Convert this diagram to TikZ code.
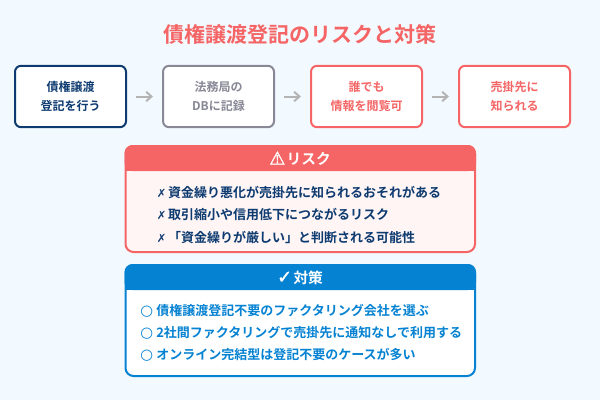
\documentclass[tikz,border=0pt]{standalone}
\usepackage{fontspec}
\setmainfont{Noto Sans CJK JP Bold}[BoldFont={Noto Sans CJK JP Bold}]
\newfontfamily\sym{DejaVu Sans}
\newfontfamily\symb{DejaVu Sans}[FakeBold=1.5]
\usetikzlibrary{arrows.meta}
\definecolor{bgc}{HTML}{F3FAFF}
\definecolor{navy}{HTML}{0D3B70}
\definecolor{coral}{HTML}{F56565}
\definecolor{blueb}{HTML}{0582D2}
\definecolor{greyb}{HTML}{888896}
\definecolor{arrowc}{HTML}{B4B4B4}
\definecolor{pinkbg}{HTML}{FFF5F5}
\newcommand{\crossmark}{\makebox[8.6pt][l]{\sym\fontsize{8.5}{12}\selectfont ✗}}
\newcommand{\ringmark}{\makebox[12pt][l]{\sym\fontsize{11}{12}\selectfont ○}}
\tikzset{
 x=0.75pt,y=-0.75pt,
 flow/.style={draw=#1,text=#1,line width=1.5pt,fill=white,rounded corners=4.5pt,minimum width=83.25pt,minimum height=46pt,inner sep=0pt,align=center,font=\fontsize{9}{14.6}\selectfont},
 flowarrow/.style={draw=arrowc,line width=1.5pt,shorten >=6.75pt,shorten <=6.75pt,-{Straight Barb[length=4pt,width=7pt,line width=1.5pt]}},
 head/.style={text=white,inner sep=0pt,anchor=center,font=\fontsize{11}{13}\selectfont},
 item/.style={anchor=west,inner sep=0pt,font=\fontsize{9.75}{12}\selectfont,text height=8.5pt,text depth=1.5pt},
}
\begin{document}
\begin{tikzpicture}
\useasboundingbox (0,0) rectangle (600,400);
\fill[bgc] (0,0) rectangle (600,400);
\node[text=coral,inner sep=0pt,font=\fontsize{15.75}{18}\selectfont] (title) at (300,35) {債権譲渡登記のリスクと対策};
\node[flow=navy] (b1) at (70.5,96.5) {債権譲渡\\登記を行う};
\node[flow=greyb] (b2) at (218.5,96.5) {法務局の\\DBに記録};
\node[flow=coral] (b3) at (366.5,96.5) {誰でも\\情報を閲覧可};
\node[flow=coral] (b4) at (514.5,96.5) {売掛先に\\知られる};
\draw[flowarrow] (b1) -- (b2);
\draw[flowarrow] (b2) -- (b3);
\draw[flowarrow] (b3) -- (b4);
% risk panel
\draw[coral,fill=pinkbg,line width=1.5pt,rounded corners=6pt] (125.5,146) rectangle (475,252);
\fill[coral,rounded corners=6pt] (124.5,171) -- (124.5,145) -- (476,145) -- (476,171) -- cycle;
\fill[coral] (124.5,165) rectangle (476,171);
\node[head] (riskh) at (300,158.5) {{\symb\fontsize{13.5}{13}\selectfont ⚠}\hspace{1pt}リスク};
\node[item,text=navy] (r1) at (156.5,192.5) {\crossmark 資金繰り悪化が売掛先に知られるおそれがある};
\node[item,text=navy] (r2) at (156.5,215) {\crossmark 取引縮小や信用低下につながるリスク};
\node[item,text=navy] (r3) at (156.5,237.5) {\crossmark 「資金繰りが厳しい」と判断される可能性};
% solution panel
\draw[blueb,fill=white,line width=1.5pt,rounded corners=6pt] (125.5,265) rectangle (475,376);
\fill[blueb,rounded corners=6pt] (124.5,290) -- (124.5,264) -- (476,264) -- (476,290) -- cycle;
\fill[blueb] (124.5,284) rectangle (476,290);
\node[head] (solh) at (300,277.5) {{\symb\fontsize{13.5}{13}\selectfont ✓}\hspace{1pt}対策};
\node[item,text=blueb] (s1) at (140,310.5) {\ringmark 債権譲渡登記不要のファクタリング会社を選ぶ};
\node[item,text=blueb] (s2) at (140,332.5) {\ringmark 2社間ファクタリングで売掛先に通知なしで利用する};
\node[item,text=blueb] (s3) at (140,354.5) {\ringmark オンライン完結型は登記不要のケースが多い};
\end{tikzpicture}
\end{document}
